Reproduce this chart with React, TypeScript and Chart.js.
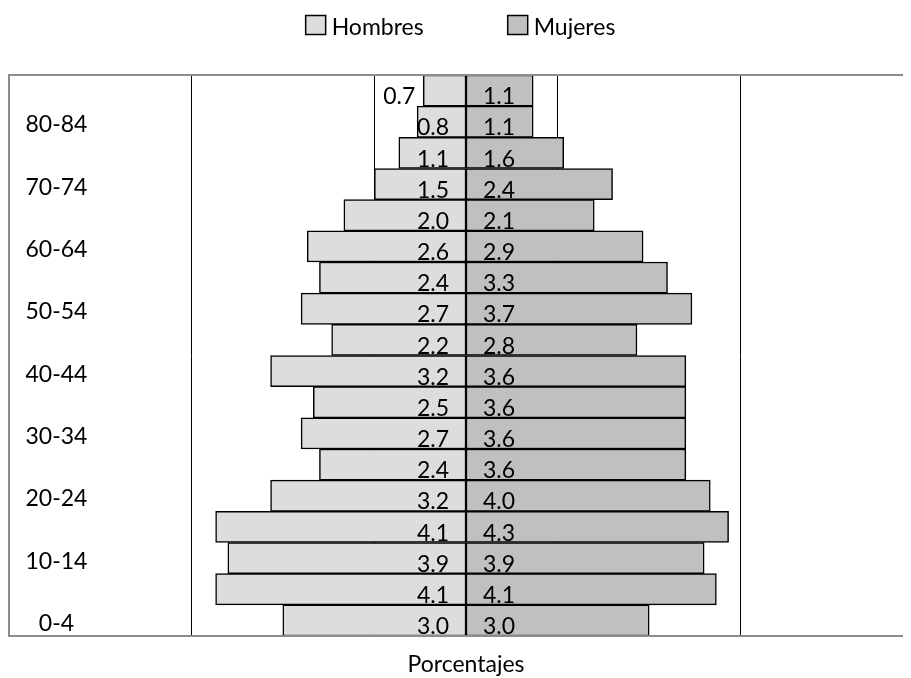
import { useEffect, useRef } from 'react';
import { Chart, registerables } from 'chart.js';

Chart.register(...registerables);

const AGE_GROUPS = ['0-4', '5-9', '10-14', '15-19', '20-24', '25-29', '30-34', '35-39', '40-44', '45-49', '50-54', '55-59', '60-64', '65-69', '70-74', '75-79', '80-84', '85+'];
const SHOWN_AGE_TICKS = ['0-4', '10-14', '20-24', '30-34', '40-44', '50-54', '60-64', '70-74', '80-84'];
const HOMBRES = [3.0, 4.1, 3.9, 4.1, 3.2, 2.4, 2.7, 2.5, 3.2, 2.2, 2.7, 2.4, 2.6, 2.0, 1.5, 1.1, 0.8, 0.7];
const MUJERES = [3.0, 4.1, 3.9, 4.3, 4.0, 3.6, 3.6, 3.6, 3.6, 2.8, 3.7, 3.3, 2.9, 2.1, 2.4, 1.6, 1.1, 1.1];
const X_TICKS = [-7.5, -4.5, -1.5, 1.5, 4.5, 7.5];
const X_MIN = -7.5;
const X_MAX = 7.5;
const SERIES_NAMES = ['Hombres', 'Mujeres'];
const SERIES_COLORS = ['#DDDDDD', '#C0C0C0'];
const X_TITLE = 'Porcentajes';

const FONT = 'Lato, "Open Sans", sans-serif';

const barLabels = {
  id: 'barLabels',
  afterDatasetsDraw(chart: any) {
    const ctx = chart.ctx;
    const zero = chart.scales.x.getPixelForValue(0);
    ctx.save();
    ctx.font = `23px ${FONT}`;
    ctx.fillStyle = '#000';
    ctx.textBaseline = 'alphabetic';
    chart.data.datasets.forEach((ds: any, di: number) => {
      const meta = chart.getDatasetMeta(di);
      meta.data.forEach((el: any, i: number) => {
        const { x, y, height } = el.getProps(['x', 'y', 'height'], true);
        const text = Math.abs(ds.data[i]).toFixed(1);
        const w = ctx.measureText(text).width;
        const barW = Math.abs(x - zero);
        const yb = y + height / 2 - 2;
        const outside = w + 15 > barW;
        if (di === 0) {
          ctx.textAlign = 'right';
          ctx.fillText(text, outside ? x - 8 : zero - 17, yb);
        } else {
          ctx.textAlign = 'left';
          ctx.fillText(text, outside ? x + 8 : zero + 17, yb);
        }
      });
    });
    ctx.restore();
  },
};

const frameAndLegend = {
  id: 'frameAndLegend',
  afterDraw(chart: any) {
    const ctx = chart.ctx;
    const { left, right, top, bottom } = chart.chartArea;
    ctx.save();
    // plot frame
    ctx.strokeStyle = '#8C8C8C';
    ctx.lineWidth = 2;
    ctx.beginPath();
    ctx.moveTo(right + 2, top);
    ctx.lineTo(left + 1, top);
    ctx.lineTo(left + 1, bottom);
    ctx.lineTo(right + 2, bottom);
    ctx.stroke();

    // legend
    ctx.font = `23px ${FONT}`;
    ctx.textBaseline = 'alphabetic';
    ctx.textAlign = 'left';
    const box = 20;
    const boxGap = 6;
    const itemGap = 84;
    const items = chart.data.datasets.map((ds: any) => ({
      label: ds.label,
      color: ds.backgroundColor,
      w: box + boxGap + ctx.measureText(ds.label).width,
    }));
    const total = items.reduce((s: number, it: any) => s + it.w, 0) + itemGap * (items.length - 1);
    let x = (left + right) / 2 - 5.5 - total / 2;
    const boxTop = 7.5;
    const baseY = 27;
    items.forEach((it: any) => {
      ctx.fillStyle = it.color;
      ctx.fillRect(x, boxTop, box, box - 1);
      ctx.strokeStyle = '#000';
      ctx.lineWidth = 1.5;
      ctx.strokeRect(x, boxTop, box, box - 1);
      ctx.fillStyle = '#000';
      ctx.fillText(it.label, x + box + boxGap, baseY);
      x += it.w + itemGap;
    });
    ctx.restore();
  },
};

export default function App() {
  const canvasRef = useRef<HTMLCanvasElement | null>(null);

  useEffect(() => {
    let chart: Chart | null = null;
    let cancelled = false;
    const build = () => {
      if (cancelled || !canvasRef.current) return;
      chart = new Chart(canvasRef.current, {
        type: 'bar',
        data: {
          labels: AGE_GROUPS,
          datasets: [
            {
              label: SERIES_NAMES[0],
              data: HOMBRES.map((v) => -v),
              backgroundColor: SERIES_COLORS[0],
              borderColor: '#000',
              borderWidth: 1.5,
              borderSkipped: false,
              barPercentage: 1,
              categoryPercentage: 1,
            },
            {
              label: SERIES_NAMES[1],
              data: MUJERES,
              backgroundColor: SERIES_COLORS[1],
              borderColor: '#000',
              borderWidth: 1.5,
              borderSkipped: false,
              barPercentage: 1,
              categoryPercentage: 1,
            },
          ],
        },
        options: {
          indexAxis: 'y',
          responsive: false,
          animation: false,
          layout: { padding: { top: 67, left: 0, right: 14, bottom: 0 } },
          plugins: {
            legend: { display: false },
            tooltip: { enabled: false },
          },
          scales: {
            x: {
              stacked: true,
              min: X_MIN,
              max: X_MAX,
              afterBuildTicks: (scale: any) => {
                scale.ticks = X_TICKS.map((v) => ({ value: v }));
              },
              ticks: { display: false },
              grid: { color: '#000', lineWidth: 1, drawTicks: false },
              border: { display: false },
              title: {
                display: true,
                text: X_TITLE,
                color: '#000',
                font: { family: FONT, size: 23, lineHeight: 1.2 },
                padding: { top: 14.4, bottom: 0 },
              },
            },
            y: {
              stacked: true,
              reverse: true,
              afterFit: (scale: any) => {
                scale.width = 0;
              },
              grid: { display: false, drawTicks: false },
              border: { display: false },
              ticks: {
                autoSkip: false,
                mirror: true,
                crossAlign: 'center',
                padding: 17.5,
                labelOffset: 3,
                color: '#000',
                font: { family: FONT, size: 23 },
                callback: (value: any) => {
                  const lab = AGE_GROUPS[value as number];
                  return SHOWN_AGE_TICKS.includes(lab) ? lab : '';
                },
              },
            },
          },
        },
        plugins: [barLabels, frameAndLegend],
      } as any);
    };
    if ((document as any).fonts && (document as any).fonts.load) {
      (document as any).fonts.load(`23px Lato`).then(build, build);
    } else {
      build();
    }
    return () => {
      cancelled = true;
      if (chart) chart.destroy();
    };
  }, []);

  return (
    <div style={{ width: 903, height: 670, overflow: 'hidden' }}>
      <canvas ref={canvasRef} width={930} height={670} style={{ display: 'block' }} />
    </div>
  );
}
